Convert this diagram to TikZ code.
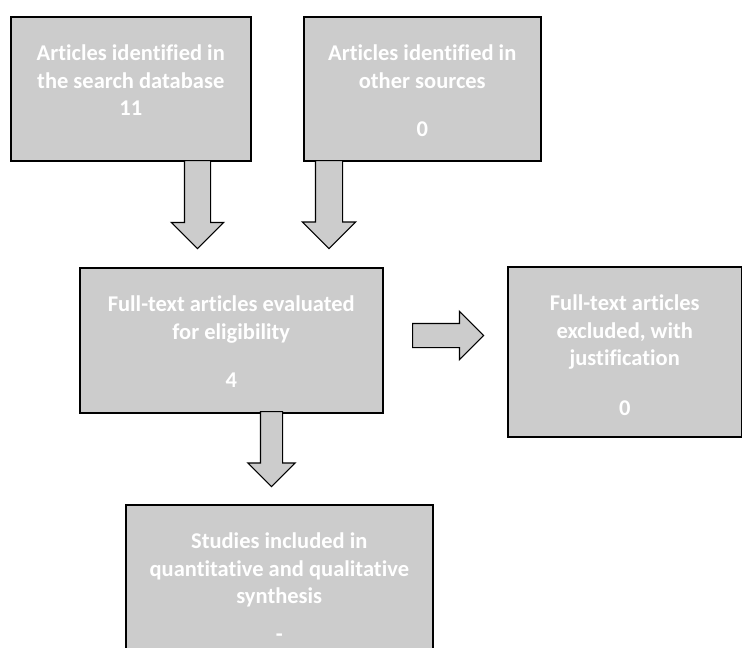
\documentclass[tikz,border=0pt]{standalone}
\usepackage{fontspec}
\setmainfont[Ligatures=NoCommon]{Carlito}
\usetikzlibrary{shapes.arrows}
\definecolor{boxgray}{HTML}{CCCCCC}
\newcommand{\boxtext}[3]{\parbox[c][#2][t]{#1}{\centering\vspace*{28pt}#3}}

\tikzset{
  flowbox/.style={draw=black, line width=1.5pt, fill=boxgray, inner sep=0pt,
    anchor=north west, text=white,
    font=\bfseries\fontsize{22.5}{27.5}\selectfont},
  blockarrow/.style n args={4}{single arrow, draw=black, line width=1.2pt,
    fill=boxgray, anchor=tail, single arrow tip angle=90,
    minimum height=#1, inner sep=#2, single arrow head extend=#3,
    shape border rotate=#4}
}

\begin{document}
\begin{tikzpicture}[x=1pt,y=-1pt]
\useasboundingbox (0,0) rectangle (742,648);

% boxes
\node[flowbox] (database) at (10,16)
  {\boxtext{240pt}{144pt}{Articles identified in\\the search database\\11}};
\node[flowbox] (other) at (303,16)
  {\boxtext{237pt}{144pt}{Articles identified in\\other sources\\[20.5pt]0}};
\node[flowbox] (evaluated) at (79,267)
  {\boxtext{303pt}{145pt}{Full-text articles evaluated\\for eligibility\\[20.5pt]4}};
\node[flowbox] (excluded) at (507,266)
  {\boxtext{234pt}{170pt}{Full-text articles\\excluded, with\\justification\\[22.5pt]0}};
\node[flowbox] (included) at (125,504)
  {\boxtext{307pt}{180pt}{Studies included in\\quantitative and qualitative\\synthesis\\[10pt]-}};

% block arrows
\node[blockarrow={88pt}{12.5pt}{13pt}{270}] (arrowdb) at (197.5,160) {};
\node[blockarrow={88pt}{13pt}{13pt}{270}] (arrowother) at (329,160) {};
\node[blockarrow={75pt}{10.5pt}{12.5pt}{270}] (arroweval) at (271.5,411) {};
\node[blockarrow={71pt}{11.5pt}{12pt}{0}] (arrowexcl) at (412,335.5) {};
\end{tikzpicture}
\end{document}
